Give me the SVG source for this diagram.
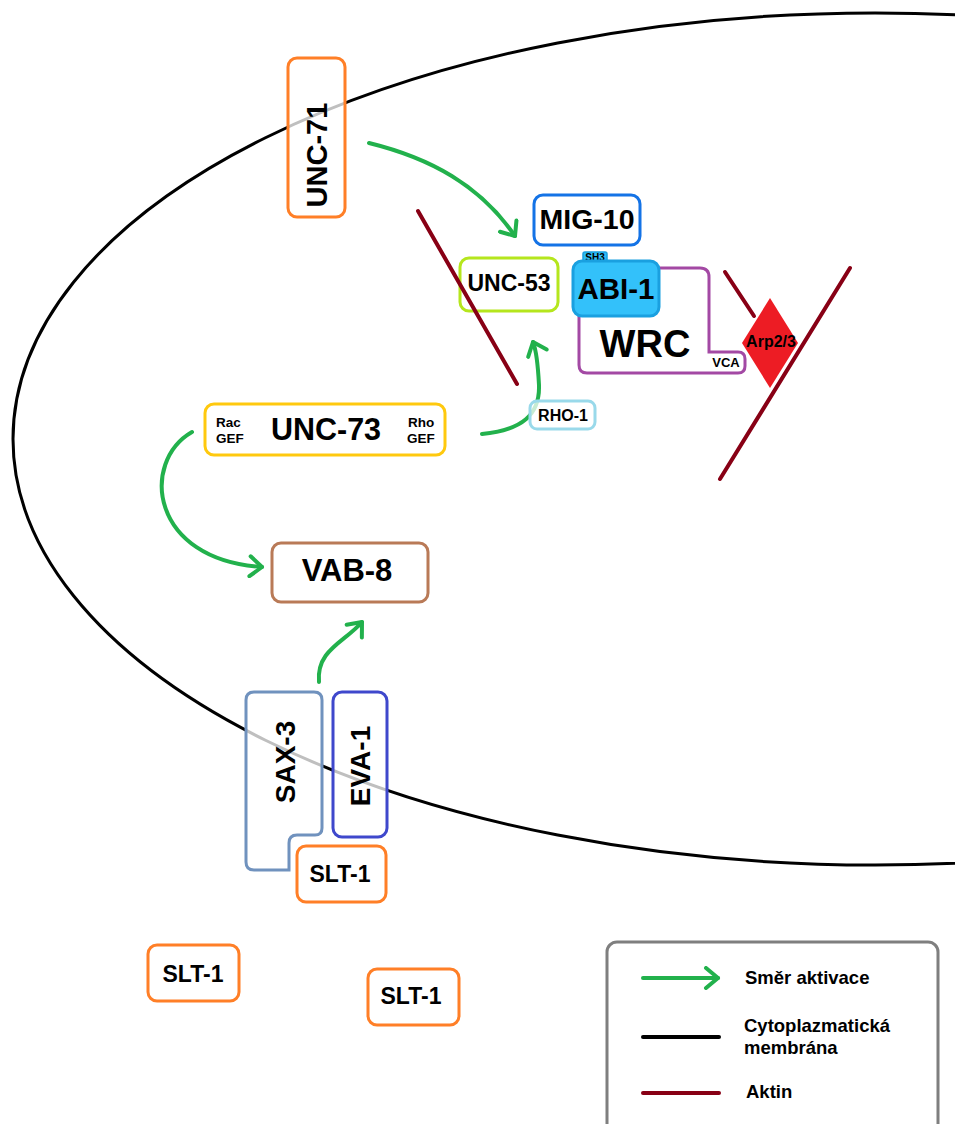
<svg xmlns="http://www.w3.org/2000/svg" width="955" height="1124" viewBox="0 0 955 1124">
<style>
text{font-family:"Liberation Sans",Arial,sans-serif;font-weight:bold;fill:#000}
.c{text-anchor:middle}
.box{fill:#fff;fill-opacity:0.75;stroke-width:3}
.arr{fill:none;stroke:#22b14c;stroke-width:4;stroke-linecap:round;marker-end:url(#ahL)}
.actin{stroke:#880015;stroke-width:4;stroke-linecap:round}
</style>
<defs>
<marker id="ahL" markerWidth="24" markerHeight="24" viewBox="0 0 24 24" refX="20" refY="12" orient="auto" markerUnits="userSpaceOnUse">
<path d="M8,2 L20,12 L8,22" fill="none" stroke="#22b14c" stroke-width="4" stroke-linecap="round" stroke-linejoin="round"/>
</marker>
</defs>
<rect width="955" height="1124" fill="#fff"/>
<ellipse id="membrane" cx="875" cy="439" rx="862" ry="426" fill="none" stroke="#000" stroke-width="3"/>

<g id="connectors">
<path class="arr" d="M369,143 C430,158 480,185 515,236"/>
<path class="arr" d="M482,434 C522,430 540,415 539,385 C538,366 537,352 533,342"/>
<path class="arr" d="M192,432 C140,462 150,560 262,567"/>
<path class="arr" d="M319,682 C316,650 345,642 362,622"/>
</g>

<g id="UNC-71">
<rect class="box" x="288" y="58" width="57" height="159" rx="9" stroke="#ff7f27"/>
<text class="c" font-size="29" transform="translate(327,155) rotate(-90)">UNC-71</text>
</g>
<g id="MIG-10">
<rect class="box" x="534" y="195" width="106" height="50" rx="9" stroke="#1473e6"/>
<text class="c" x="587" y="229" font-size="28.5">MIG-10</text>
</g>
<g id="UNC-53">
<rect class="box" x="460" y="258" width="98" height="53" rx="9" stroke="#b5e61d"/>
<text class="c" x="509" y="291" font-size="23">UNC-53</text>
</g>
<g id="WRC">
<path d="M658,268 H700 Q709,268 709,277 V352 H738 Q745,352 745,359 V366 Q745,373 738,373 H587 Q579,373 579,365 V316" fill="none" stroke="#a349a4" stroke-width="3"/>
<text class="c" x="645" y="357" font-size="38">WRC</text>
<text class="c" x="726" y="367" font-size="13">VCA</text>
</g>
<g id="ABI-1">
<rect x="583" y="252" width="24" height="10" rx="2" fill="#2fbcf5" stroke="#1aa0e0" stroke-width="1.5"/>
<text class="c" x="595" y="261" font-size="10">SH3</text>
<rect x="573" y="261" width="86" height="55" rx="9" fill="#33c1fa" stroke="#1aa0e0" stroke-width="3"/>
<text class="c" x="616" y="299" font-size="29.5">ABI-1</text>
</g>
<g id="Arp2-3">
<polygon points="770,298 798,343 770,388 742,343" fill="#ed1c24"/>
<text class="c" x="771" y="347" font-size="16" fill="#1a0000">Arp2/3</text>
</g>
<g id="RHO-1">
<rect class="box" x="530" y="401" width="65" height="28" rx="7" stroke="#99d9ea"/>
<text class="c" x="563" y="421" font-size="16">RHO-1</text>
</g>
<g id="UNC-73">
<rect class="box" x="205" y="404" width="240" height="51" rx="9" stroke="#ffc90e"/>
<text x="216" y="427" font-size="13.5">Rac</text>
<text x="216" y="443" font-size="13.5">GEF</text>
<text class="c" x="326" y="440" font-size="30.5">UNC-73</text>
<text x="408" y="427" font-size="13.5">Rho</text>
<text x="407" y="443" font-size="13.5">GEF</text>
</g>
<g id="VAB-8">
<rect class="box" x="272" y="543" width="156" height="59" rx="9" stroke="#b97a57"/>
<text class="c" x="347" y="581" font-size="31">VAB-8</text>
</g>
<g id="SAX-3">
<path class="box" d="M254,692 H314 Q322,692 322,700 V828 Q322,835 315,835 H297 Q289,835 289,843 V870 H254 Q246,870 246,862 V700 Q246,692 254,692 Z" stroke="#7092be"/>
<text class="c" font-size="28" transform="translate(295,762) rotate(-90)">SAX-3</text>
</g>
<g id="EVA-1">
<rect class="box" x="333" y="692" width="54" height="145" rx="9" stroke="#3f48cc"/>
<text class="c" font-size="28" transform="translate(370,766) rotate(-90)">EVA-1</text>
</g>
<g id="SLT-1-a">
<rect class="box" x="297" y="846" width="89" height="56" rx="9" stroke="#ff7f27"/>
<text class="c" x="340" y="882" font-size="23">SLT-1</text>
</g>
<g id="SLT-1-b">
<rect class="box" x="148" y="945" width="91" height="56" rx="9" stroke="#ff7f27"/>
<text class="c" x="193" y="982" font-size="23">SLT-1</text>
</g>
<g id="SLT-1-c">
<rect class="box" x="368" y="969" width="91" height="56" rx="9" stroke="#ff7f27"/>
<text class="c" x="411" y="1004" font-size="23">SLT-1</text>
</g>

<g id="actin">
<line class="actin" x1="418" y1="211" x2="517" y2="384"/>
<line class="actin" x1="725" y1="272" x2="754" y2="316"/>
<line class="actin" x1="850" y1="268" x2="720" y2="479"/>
</g>

<g id="legend">
<rect x="607" y="942" width="331" height="200" rx="10" fill="none" stroke="#7f7f7f" stroke-width="3"/>
<line x1="643" y1="978" x2="718" y2="978" class="arr"/>
<text x="745" y="984" font-size="18.5">Směr aktivace</text>
<line x1="643" y1="1037" x2="719" y2="1037" stroke="#000" stroke-width="4" stroke-linecap="round"/>
<text x="744" y="1032" font-size="18.5">Cytoplazmatická</text>
<text x="744" y="1054" font-size="18.5">membrána</text>
<line x1="643" y1="1093" x2="719" y2="1093" stroke="#880015" stroke-width="4" stroke-linecap="round"/>
<text x="746" y="1098" font-size="18.5">Aktin</text>
</g>
</svg>
